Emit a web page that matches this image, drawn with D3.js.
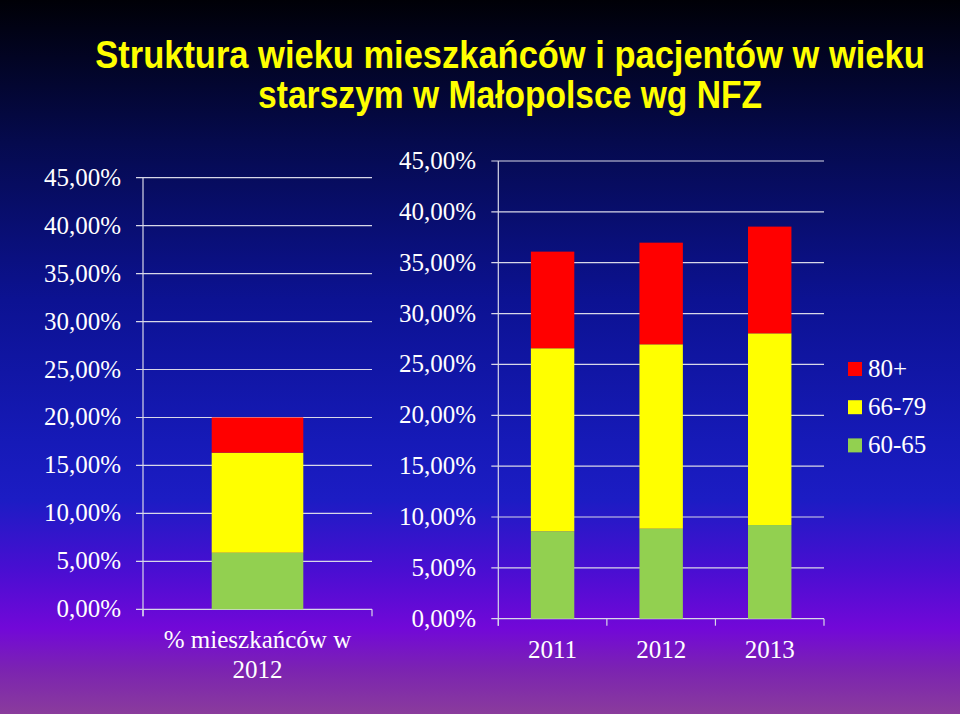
<!DOCTYPE html>
<html><head><meta charset="utf-8">
<script src="https://cdn.jsdelivr.net/npm/d3@7"></script>
<style>html,body{margin:0;padding:0;}svg{display:block;}</style>
</head><body>
<svg id="c" width="960" height="714"></svg>
<script>
const titleLines = ["Struktura wieku mieszkańców i pacjentów w wieku", "starszym w Małopolsce wg NFZ"];
const seriesNames = ["60-65", "66-79", "80+"];
const seriesColors = ["#92d050", "#ffff00", "#ff0000"];
const yTicks = [0, 5, 10, 15, 20, 25, 30, 35, 40, 45];
// left chart: residents 2012
const leftCategories = ["% mieszkańców w 2012"];
const left6065 = [5.9];
const left6679 = [10.43];
const left80 = [3.67];
// right chart: patients by year
const rightCategories = ["2011", "2012", "2013"];
const right6065 = [8.59, 8.85, 9.21];
const right6679 = [18.0, 18.13, 18.85];
const right80 = [9.5, 9.99, 10.49];

const svg = d3.select("#c");
const defs = svg.append("defs");
const grad = defs.append("linearGradient").attr("id","bg").attr("x1",0).attr("y1",0).attr("x2",0).attr("y2",1);
[[0,"#000006"],[0.2,"#050a4e"],[0.42,"#0c1292"],[0.62,"#161ab8"],[0.7,"#1c1cc4"],[0.8,"#4a0ed2"],[0.88,"#7208d8"],[0.94,"#7c24b0"],[1,"#8a3c9c"]]
  .forEach(([o,c])=>grad.append("stop").attr("offset",o).attr("stop-color",c));
svg.append("rect").attr("width",960).attr("height",714).attr("fill","url(#bg)");

// title: condensed via horizontal scale to fit the reference widths
const titleTargets = [[68, 830], [108, 504]];
titleLines.forEach((line, i) => {
  const t = svg.append("text").attr("fill","#ffff00")
    .attr("font-family","'Liberation Sans Narrow','Arial Narrow','Liberation Sans',sans-serif")
    .attr("font-weight","bold").attr("font-size",38).attr("text-anchor","middle")
    .attr("x",0).attr("y",0).text(line);
  const w = t.node().getComputedTextLength();
  const s = titleTargets[i][1] / w;
  t.attr("transform", `translate(510,${titleTargets[i][0]}) scale(${s},1)`);
});

const fmt = v => d3.format(".2f")(v).replace(".", ",") + "%";
const serif = "'Liberation Serif','Times New Roman',serif";
const gridColor = "#d8d8e8";

function drawChart(cfg){
  const {x0,x1,yTop,yBottom,cats,s1,s2,s3,labelX,wrap} = cfg;
  const y = d3.scaleLinear().domain([0,45]).range([yBottom,yTop]);
  const x = d3.scaleBand().domain(cats).range([x0,x1]).paddingInner(0.6).paddingOuter(0.3);
  const g = svg.append("g");
  g.selectAll(".grid").data(yTicks).join("line")
    .attr("x1",x0-7).attr("x2",x1).attr("y1",d=>y(d)).attr("y2",d=>y(d))
    .attr("stroke",gridColor).attr("stroke-width",1.2);
  g.append("line").attr("x1",x0).attr("x2",x0).attr("y1",yTop).attr("y2",yBottom+7).attr("stroke",gridColor).attr("stroke-width",1.2);
  const edges = cats.map((c,i)=>x0 + i*(x1-x0)/cats.length);
  edges.push(x1);
  g.selectAll(".xt").data(edges).join("line")
    .attr("x1",d=>d).attr("x2",d=>d).attr("y1",yBottom).attr("y2",yBottom+7)
    .attr("stroke",gridColor).attr("stroke-width",1.2);
  g.selectAll(".yl").data(yTicks).join("text")
    .attr("x",labelX).attr("y",d=>y(d)+8).attr("text-anchor","end")
    .attr("fill","#ffffff").attr("font-family",serif).attr("font-size",25).text(fmt);
  const rows = cats.map((c,i)=>({cat:c, "60-65":s1[i], "66-79":s2[i], "80+":s3[i]}));
  const stack = d3.stack().keys(seriesNames)(rows);
  stack.forEach((layer,li)=>{
    g.selectAll(null).data(layer).join("rect")
      .attr("x",d=>x(d.data.cat)).attr("width",x.bandwidth())
      .attr("y",d=>y(d[1])).attr("height",d=>y(d[0])-y(d[1]))
      .attr("fill",seriesColors[li]);
  });
  cats.forEach(c=>{
    const t = g.append("text").attr("text-anchor","middle").attr("fill","#ffffff")
      .attr("font-family",serif).attr("font-size",25);
    const cx = x(c)+x.bandwidth()/2;
    if (wrap) {
      const words = c.split(" ");
      t.append("tspan").attr("x",cx).attr("y",yBottom+39).text(words.slice(0,3).join(" "));
      t.append("tspan").attr("x",cx).attr("y",yBottom+69).text(words.slice(3).join(" "));
    } else {
      t.attr("x",cx).attr("y",yBottom+39).text(c);
    }
  });
}

drawChart({x0:143,x1:372,yTop:177.7,yBottom:609.3,cats:leftCategories,s1:left6065,s2:left6679,s3:left80,labelX:121,wrap:true});
drawChart({x0:498.3,x1:824,yTop:161,yBottom:618.7,cats:rightCategories,s1:right6065,s2:right6679,s3:right80,labelX:476,wrap:false});

const legendItems = ["80+","66-79","60-65"];
const legendColors = ["#ff0000","#ffff00","#92d050"];
const lg = svg.append("g");
legendItems.forEach((n,i)=>{
  const yy = 362 + i*38.2;
  lg.append("rect").attr("x",848).attr("y",yy).attr("width",14).attr("height",14).attr("fill",legendColors[i]);
  lg.append("text").attr("x",868).attr("y",yy+15).attr("fill","#ffffff").attr("font-family",serif).attr("font-size",25).text(n);
});
</script>
</body></html>
